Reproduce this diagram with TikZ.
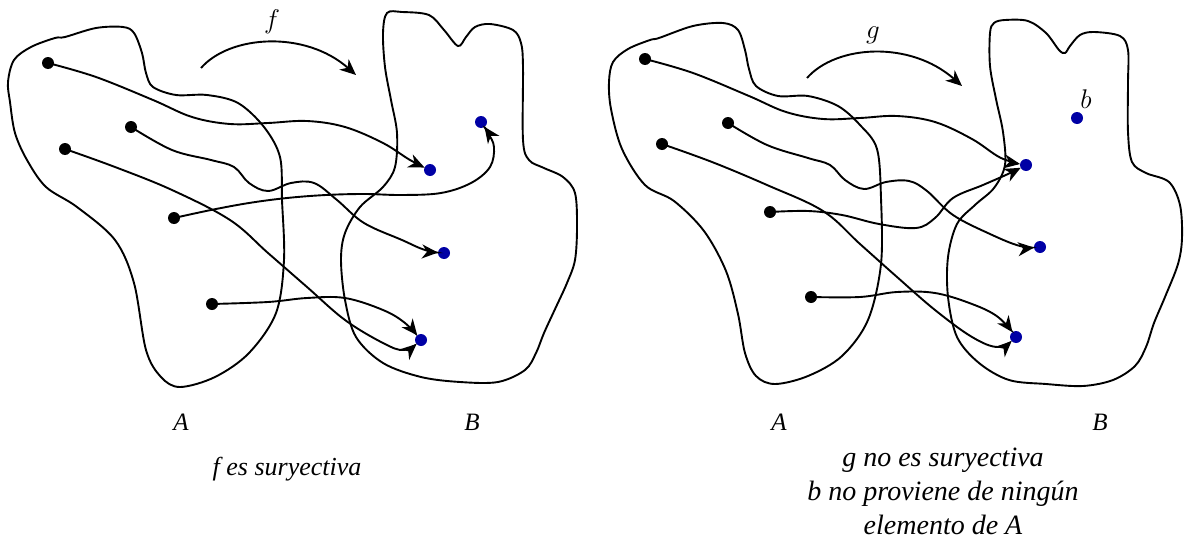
\RequirePackage{fix-cm}
\documentclass[tikz,border=0pt]{standalone}
\usepackage{fontspec}
\setmainfont{Liberation Serif}
\usetikzlibrary{arrows.meta}
\definecolor{dotblue}{RGB}{0,0,165}
\tikzset{
  blob/.style={draw, line width=1.9pt},
  conn/.style={draw, line width=1.9pt, -{Stealth[length=16pt,width=14pt,inset=5pt]}, shorten >=6pt},
  bigarrow/.style={draw, line width=1.9pt, -{Stealth[length=16pt,width=14pt,inset=5pt]}},
  adot/.style={circle, fill=black, minimum size=12pt, inner sep=0pt},
  bdot/.style={circle, fill=dotblue, minimum size=12pt, inner sep=0pt},
  setlabel/.style={font=\fontsize{25}{29}\selectfont\itshape, anchor=base, inner sep=0pt},
  caption/.style={font=\fontsize{28}{34}\selectfont\itshape, anchor=base, inner sep=0pt},
  lcaption/.style={font=\fontsize{26}{30}\selectfont\itshape, anchor=base, inner sep=0pt},
  maplabel/.style={font=\fontsize{27}{30}\selectfont, anchor=base, inner sep=0pt}
}
\begin{document}
\begin{tikzpicture}[x=1pt,y=-1pt]
\useasboundingbox (0,0) rectangle (1184,546);

% ---------------- left diagram ----------------
\draw[blob] plot[smooth cycle, tension=0.55] coordinates {
 (14,60) (8,82) (10,102) (15,133) (27,160) (46,187) (77,207) (115,240) (134,283)
 (146,350) (161,377) (180,387) (215,377) (249,353) (276,313) (284,260) (282,200)
 (280,157) (264,127) (238,103) (207,95) (176,95) (153,87) (146,73) (142,53)
 (134,33) (123,27) (96,28) (65,37) (55,38) (31,47)};
\draw[blob] plot[smooth cycle, tension=0.55] coordinates {
 (387,13) (402,12) (429,15) (444,30) (458,46) (466,37) (475,27) (490,24) (513,30)
 (521,43) (523,67) (523,140) (529,160) (544,168) (563,177) (575,193) (577,227)
 (575,260) (567,283) (556,307) (544,333) (536,353) (525,370) (498,382) (460,382)
 (421,377) (383,363) (356,337) (345,300) (341,260) (345,233) (360,207) (383,187)
 (395,167) (397,133) (391,100) (385,67) (383,33)};

\node[adot] (la1) at (48,63) {};
\node[adot] (la2) at (131,127) {};
\node[adot] (la3) at (65,149) {};
\node[adot] (la4) at (174,218) {};
\node[adot] (la5) at (212,304) {};
\node[bdot] (lb1) at (430,170) {};
\node[bdot] (lb4) at (481,122) {};
\node[bdot] (lb2) at (444,253) {};
\node[bdot] (lb3) at (421,340) {};

\draw[conn] plot[smooth, tension=0.6] coordinates {(la1.center) (96,77) (153,100) (192,117)
 (230,124) (268,123) (307,121) (345,127) (383,143) (410,160) (lb1.center)};
\draw[conn] plot[smooth, tension=0.6] coordinates {(la2.center) (172,150) (211,160) (234,167)
 (249,183) (268,191) (291,183) (314,183) (337,200) (364,223) (402,240) (425,250) (lb2.center)};
\draw[conn] plot[smooth, tension=0.6] coordinates {(la3.center) (115,167) (172,190) (230,220)
 (268,253) (307,287) (345,320) (383,343) (404,350) (lb3.center)};
\draw[conn] plot[smooth, tension=0.6] coordinates {(la4.center) (211,210) (249,203) (287,198)
 (326,195) (364,194) (402,195) (441,193) (471,183) (490,167) (494,147) (488,133) (lb4.center)};
\draw[conn] plot[smooth, tension=0.6] coordinates {(la5.center) (268,302) (307,298) (345,298)
 (383,310) (405,323) (lb3.center)};

\coordinate (fs) at (201,68);
\coordinate (fe) at (356,75);
\draw[bigarrow] (fs) .. controls (230,35) and (305,30) .. (fe);
\node[maplabel] (fl) at (272,28) {$f$};

\node[setlabel] (lA) at (181,430) {A};
\node[setlabel] (lB) at (472,430) {B};
\node[lcaption] (lc) at (287,475) {f es suryectiva};

% ---------------- right diagram ----------------
\draw[blob] plot[smooth cycle, tension=0.55] coordinates {
 (613,62) (609,82) (611,109) (622,149) (645,185) (674,201) (704,231) (726,271)
 (738,314) (745,353) (756,376) (775,384) (808,376) (842,356) (868,320) (881,264)
 (881,198) (877,149) (860,125) (838,106) (808,96) (778,96) (756,86) (749,69)
 (745,50) (738,30) (723,23) (693,26) (659,38) (650,40) (628,49)};
\draw[blob] plot[smooth cycle, tension=0.55] coordinates {
 (994,23) (1005,20) (1028,21) (1046,33) (1059,50) (1065,53) (1070,46) (1080,35)
 (1094,32) (1120,36) (1128,50) (1128,83) (1128,132) (1132,162) (1146,173)
 (1169,182) (1180,205) (1182,238) (1178,264) (1165,297) (1154,323) (1146,347)
 (1135,366) (1113,380) (1083,386) (1046,384) (1009,380) (979,363) (957,337)
 (948,297) (948,257) (957,224) (975,205) (994,188) (1005,165) (1003,132)
 (996,99) (990,66) (990,33)};

\node[adot] (ra1) at (645,59) {};
\node[adot] (ra2) at (728,123) {};
\node[adot] (ra3) at (662,144) {};
\node[adot] (ra4) at (770,212) {};
\node[adot] (ra5) at (811,297) {};
\node[bdot] (rb1) at (1026,165) {};
\node[bdot] (rb2) at (1040,247) {};
\node[bdot] (rb3) at (1016,337) {};
\node[bdot] (rb0) at (1077,118) {};

\draw[conn] plot[smooth, tension=0.6] coordinates {(ra1.center) (693,73) (749,96) (786,112)
 (823,119) (860,118) (897,116) (935,122) (972,139) (1001,158) (rb1.center)};
\draw[conn] plot[smooth, tension=0.6] coordinates {(ra2.center) (767,145) (808,158) (830,165)
 (845,180) (864,189) (886,182) (909,181) (927,191) (953,215) (990,234) (1020,246) (rb2.center)};
\draw[conn] plot[smooth, tension=0.6] coordinates {(ra3.center) (712,162) (767,185) (823,211)
 (860,244) (897,277) (935,310) (972,337) (998,347) (rb3.center)};
\draw[conn] plot[smooth, tension=0.6] coordinates {(ra4.center) (808,211) (842,215) (879,224)
 (916,228) (935,218) (953,198) (983,185) (1008,174) (rb1.center)};
\draw[conn] plot[smooth, tension=0.6] coordinates {(ra5.center) (860,297) (897,292) (935,293)
 (972,304) (998,317) (rb3.center)};

\coordinate (gs) at (807,78);
\coordinate (ge) at (962,86);
\draw[bigarrow] (gs) .. controls (836,45) and (910,40) .. (ge);
\node[maplabel] (gl) at (873,38) {$g$};
\node[maplabel] (bl) at (1086,108) {$b$};

\node[setlabel] (rA) at (779,430) {A};
\node[setlabel] (rB) at (1100,430) {B};
\node[caption] (rc1) at (943,466) {g no es suryectiva};
\node[caption] (rc2) at (943,500) {b no proviene de ningún};
\node[caption] (rc3) at (943,534) {elemento de A};
\end{tikzpicture}
\end{document}
